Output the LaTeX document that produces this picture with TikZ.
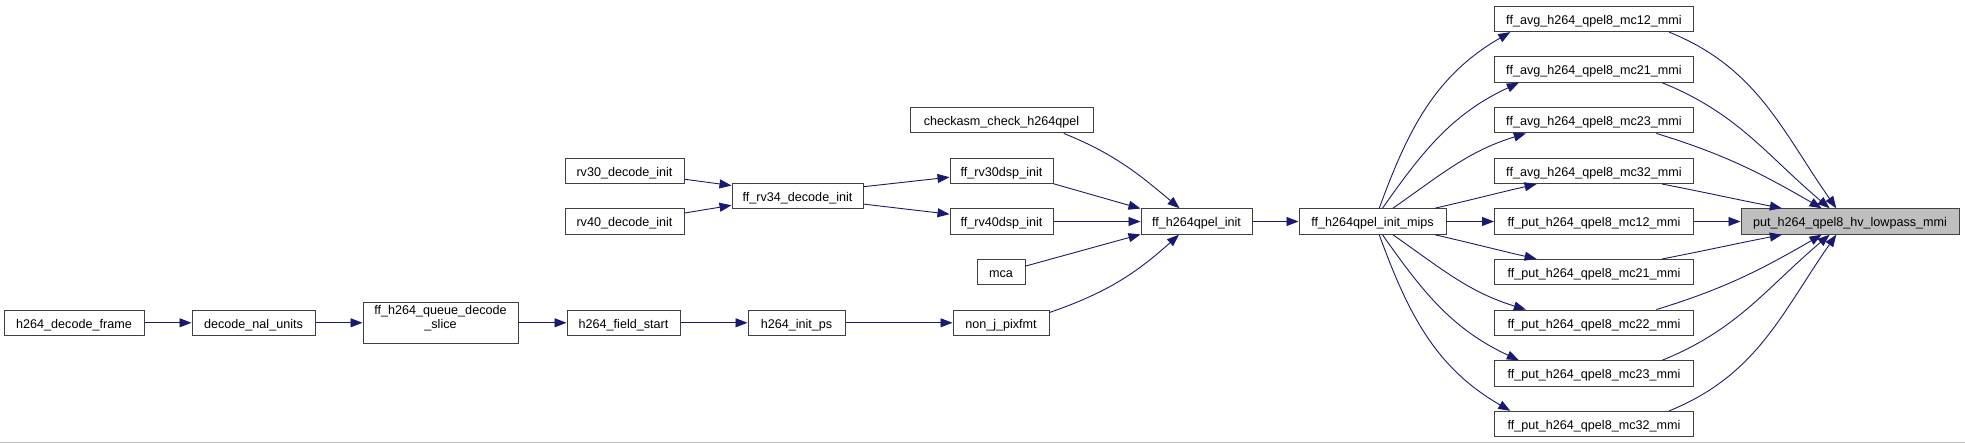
\documentclass[tikz,border=0pt]{standalone}
\usepackage{fontspec}
\setmainfont{Liberation Sans}
\usetikzlibrary{arrows.meta}

\begin{document}
\begin{tikzpicture}[x=1pt, y=1pt,
    func/.style={draw=col2, line width=1pt, minimum height=25.5pt, inner sep=0pt,
                 text height=10.5pt, text depth=0pt,
                 font=\fontsize{12.6}{14}\selectfont},
    funcsel/.style={func, fill=col3},
    call/.style={draw=col1, line width=0.9pt, -{Triangle[length=12pt, width=9pt]}}]

  % --- Farben ---
  \definecolor{col1}{HTML}{191970} % Aufrufkanten
  \definecolor{col2}{HTML}{404040} % Rahmen
  \definecolor{col3}{HTML}{BFBFBF} % ausgewaehlte Funktion
  \definecolor{col4}{HTML}{C0C0C0} % Linie unten

  \useasboundingbox (0,0) rectangle (1965,443);

  % --- Ziel ---
  \node[funcsel, minimum width=218pt] (hv) at (1850,221.5) {put\_h264\_qpel8\_hv\_lowpass\_mmi};

  % --- rechte Spalte (Abstand 50.66) ---
  \node[func, minimum width=199pt] (avg12) at (1594,424.1) {ff\_avg\_h264\_qpel8\_mc12\_mmi};
  \node[func, minimum width=199pt] (avg21) at (1594,373.5) {ff\_avg\_h264\_qpel8\_mc21\_mmi};
  \node[func, minimum width=199pt] (avg23) at (1594,322.8) {ff\_avg\_h264\_qpel8\_mc23\_mmi};
  \node[func, minimum width=199pt] (avg32) at (1594,272.2) {ff\_avg\_h264\_qpel8\_mc32\_mmi};
  \node[func, minimum width=199pt] (put12) at (1594,221.5) {ff\_put\_h264\_qpel8\_mc12\_mmi};
  \node[func, minimum width=199pt] (put21) at (1594,170.8) {ff\_put\_h264\_qpel8\_mc21\_mmi};
  \node[func, minimum width=199pt] (put22) at (1594,120.2) {ff\_put\_h264\_qpel8\_mc22\_mmi};
  \node[func, minimum width=199pt] (put23) at (1594,69.5) {ff\_put\_h264\_qpel8\_mc23\_mmi};
  \node[func, minimum width=199pt] (put32) at (1594,18.9) {ff\_put\_h264\_qpel8\_mc32\_mmi};

  % --- Init ---
  \node[func, minimum width=147pt] (mips) at (1372.5,221.5) {ff\_h264qpel\_init\_mips};
  \node[func, minimum width=111pt] (qinit) at (1196.5,221.5) {ff\_h264qpel\_init};

  \node[func, minimum width=183pt] (checkasm) at (1001.5,322.8) {checkasm\_check\_h264qpel};
  \node[func, minimum width=103pt] (rv30dsp) at (1001.5,272.2) {ff\_rv30dsp\_init};
  \node[func, minimum width=103pt] (rv40dsp) at (1001.5,221.5) {ff\_rv40dsp\_init};
  \node[func, minimum width=48pt] (mca) at (1001,170.8) {mca};
  \node[func, minimum width=96pt] (nonj) at (1001,120.2) {non\_j\_pixfmt};

  \node[func, minimum width=131pt] (rv34) at (797.5,247) {ff\_rv34\_decode\_init};
  \node[func, minimum width=119pt] (rv30dec) at (624.5,272.2) {rv30\_decode\_init};
  \node[func, minimum width=119pt] (rv40dec) at (624.5,221.5) {rv40\_decode\_init};

  % --- Kette unten ---
  \node[func, minimum width=97pt] (initps) at (796.5,120.2) {h264\_init\_ps};
  \node[func, minimum width=113pt] (fieldstart) at (623.5,120.2) {h264\_field\_start};
  \node[func, minimum width=155pt, minimum height=41pt, align=center] (queue) at (440.5,120.2) {ff\_h264\_queue\_decode\\\_slice};
  \node[func, minimum width=123pt] (nal) at (253.5,120.2) {decode\_nal\_units};
  \node[func, minimum width=140pt] (frame) at (74,120.2) {h264\_decode\_frame};

  % --- Aufrufe: rechte Spalte -> Ziel ---
  \draw[call] (avg12.-10) to[out=-22, in=125] (hv.136);
  \draw[call] (avg21.-11) to[out=-22, in=140] (hv.147);
  \draw[call] (avg23.-12) to[out=-17, in=150] (hv.155);
  \draw[call] (avg32.-11) to[out=-11, in=169] (hv.169);
  \draw[call] (put12) -- (hv);
  \draw[call] (put21.11) to[out=11, in=-169] (hv.191);
  \draw[call] (put22.12) to[out=17, in=-150] (hv.205);
  \draw[call] (put23.11) to[out=22, in=-140] (hv.213);
  \draw[call] (put32.10) to[out=22, in=-125] (hv.224);

  % --- Aufrufe: mips -> rechte Spalte ---
  \draw[call] (mips.63) to[out=70, in=210] (avg12.189);
  \draw[call] (mips.53) to[out=55, in=205] (avg21.190);
  \draw[call] (mips.33) to[out=35, in=197] (avg23.191);
  \draw[call] (mips.12) to[out=13, in=193] (avg32.193);
  \draw[call] (mips) -- (put12);
  \draw[call] (mips.-12) to[out=-13, in=167] (put21.167);
  \draw[call] (mips.-33) to[out=-35, in=163] (put22.169);
  \draw[call] (mips.-53) to[out=-55, in=155] (put23.170);
  \draw[call] (mips.-63) to[out=-70, in=150] (put32.171);

  % --- Aufrufe: Mitte ---
  \draw[call] (qinit) -- (mips);
  \draw[call] (checkasm.-12) to[out=-22, in=140] (qinit.142);
  \draw[call] (rv30dsp.-14) -- (qinit.167);
  \draw[call] (rv40dsp) -- (qinit);
  \draw[call] (mca.14) -- (qinit.193);
  \draw[call] (nonj.12) to[out=19, in=222] (qinit.217);

  \draw[call] (rv34.8) -- (rv30dsp.187);
  \draw[call] (rv34.-7) -- (rv40dsp.172);
  \draw[call] (rv30dec.-8) -- (rv34.171);
  \draw[call] (rv40dec.8) -- (rv34.188);

  % --- Aufrufe: Kette ---
  \draw[call] (frame) -- (nal);
  \draw[call] (nal) -- (queue);
  \draw[call] (queue) -- (fieldstart);
  \draw[call] (fieldstart) -- (initps);
  \draw[call] (initps) -- (nonj);

  % --- Linie unten ---
  \draw[col4, line width=1pt] (0,0.5) -- (1965,0.5);

\end{tikzpicture}
\end{document}
